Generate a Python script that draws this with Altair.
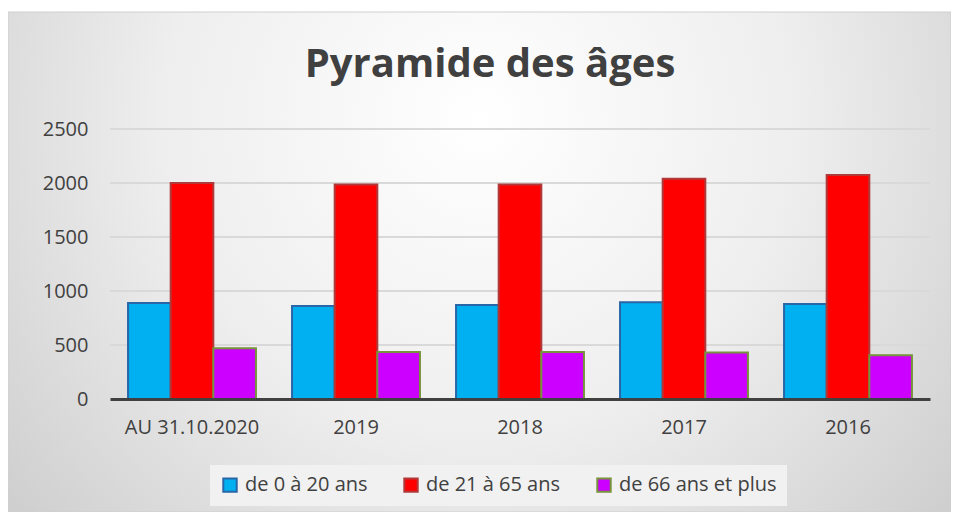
import altair as alt
import pandas as pd

categories = ["AU 31.10.2020", "2019", "2018", "2017", "2016"]
series = ["de 0 à 20 ans", "de 21 à 65 ans", "de 66 ans et plus"]
young = [890, 860, 870, 895, 880]
adults = [2000, 1985, 1985, 2040, 2075]
seniors = [470, 435, 435, 430, 405]
grid_values = [500, 1000, 1500, 2000, 2500]
tick_values = [0, 500, 1000, 1500, 2000, 2500]
title_text = "Pyramide des âges"

fills = ["#00b0f0", "#ff0000", "#cc00ff"]
strokes = ["#2866a8", "#b03a3a", "#77933c"]

rows = []
for s, vals in zip(series, [young, adults, seniors]):
    for c, v in zip(categories, vals):
        rows.append({"categorie": c, "serie": s, "valeur": v})
df = pd.DataFrame(rows)

FONT = "Open Sans"

y_scale = alt.Scale(domain=[0, 2500], nice=False)
y_axis = alt.Axis(
    values=tick_values, format="d", grid=False, domain=False, ticks=False,
    labelFont=FONT, labelFontSize=20, labelColor="#404040",
    labelPadding=22, zindex=1,
)

bg = alt.Chart(alt.Data(values=[{"k": 1}])).mark_rect(
    fill={
        "gradient": "radial",
        "x1": 0.5, "y1": 0.35, "r1": 0.0,
        "x2": 0.5, "y2": 0.35, "r2": 0.75,
        "stops": [
            {"offset": 0.0, "color": "#ffffff"},
            {"offset": 0.45, "color": "#eeeeee"},
            {"offset": 1.0, "color": "#c4c4c4"},
        ],
    },
    stroke="#cfcfcf",
    strokeWidth=1,
).encode(
    x=alt.value(-102), x2=alt.value(841),
    y=alt.value(-117), y2=alt.value(383),
)

title = alt.Chart(alt.Data(values=[{"t": title_text}])).mark_text(
    font=FONT, fontSize=40, fontWeight="bold", color="#404040",
    align="center", baseline="alphabetic",
).encode(
    text="t:N", x=alt.value(380), y=alt.value(-52),
)

grid = alt.Chart(pd.DataFrame({"valeur": grid_values})).mark_rule(
    color="#d9d9d9", strokeWidth=2
).encode(
    y=alt.Y("valeur:Q", title=None, scale=y_scale, axis=y_axis),
)

bars = alt.Chart(df).mark_bar(strokeWidth=2).encode(
    x=alt.X(
        "categorie:N",
        sort=categories,
        title=None,
        scale=alt.Scale(paddingInner=0.22, paddingOuter=0.11),
        axis=alt.Axis(
            labelAngle=0, labelFont=FONT, labelFontSize=20, labelColor="#404040",
            ticks=False, domainColor="#404040", domainWidth=3, labelPadding=18,
            zindex=1,
        ),
    ),
    xOffset=alt.XOffset("serie:N", sort=series),
    y=alt.Y("valeur:Q", title=None, scale=y_scale, axis=y_axis),
    color=alt.Color(
        "serie:N", sort=series, title=None,
        scale=alt.Scale(domain=series, range=fills),
        legend=alt.Legend(
            orient="none", legendX=100, legendY=336, direction="horizontal",
            symbolType="square", symbolSize=180, symbolStrokeWidth=2,
            labelFont=FONT, labelFontSize=20, labelColor="#404040",
            columnPadding=32, padding=10, fillColor="#f1f1f1",
            labelOffset=5, zindex=1,
        ),
    ),
    stroke=alt.Stroke(
        "serie:N", sort=series, title=None,
        scale=alt.Scale(domain=series, range=strokes),
    ),
)

chart = alt.layer(bg, title, grid, bars).properties(
    width=820,
    height=270,
    autosize=alt.AutoSizeParams(type="none"),
    padding={"left": 102, "top": 121, "right": 21, "bottom": 113},
).configure_view(strokeWidth=0).configure(background="#ffffff")

chart.save("out.html", embed_options={"renderer": "svg", "actions": False})
